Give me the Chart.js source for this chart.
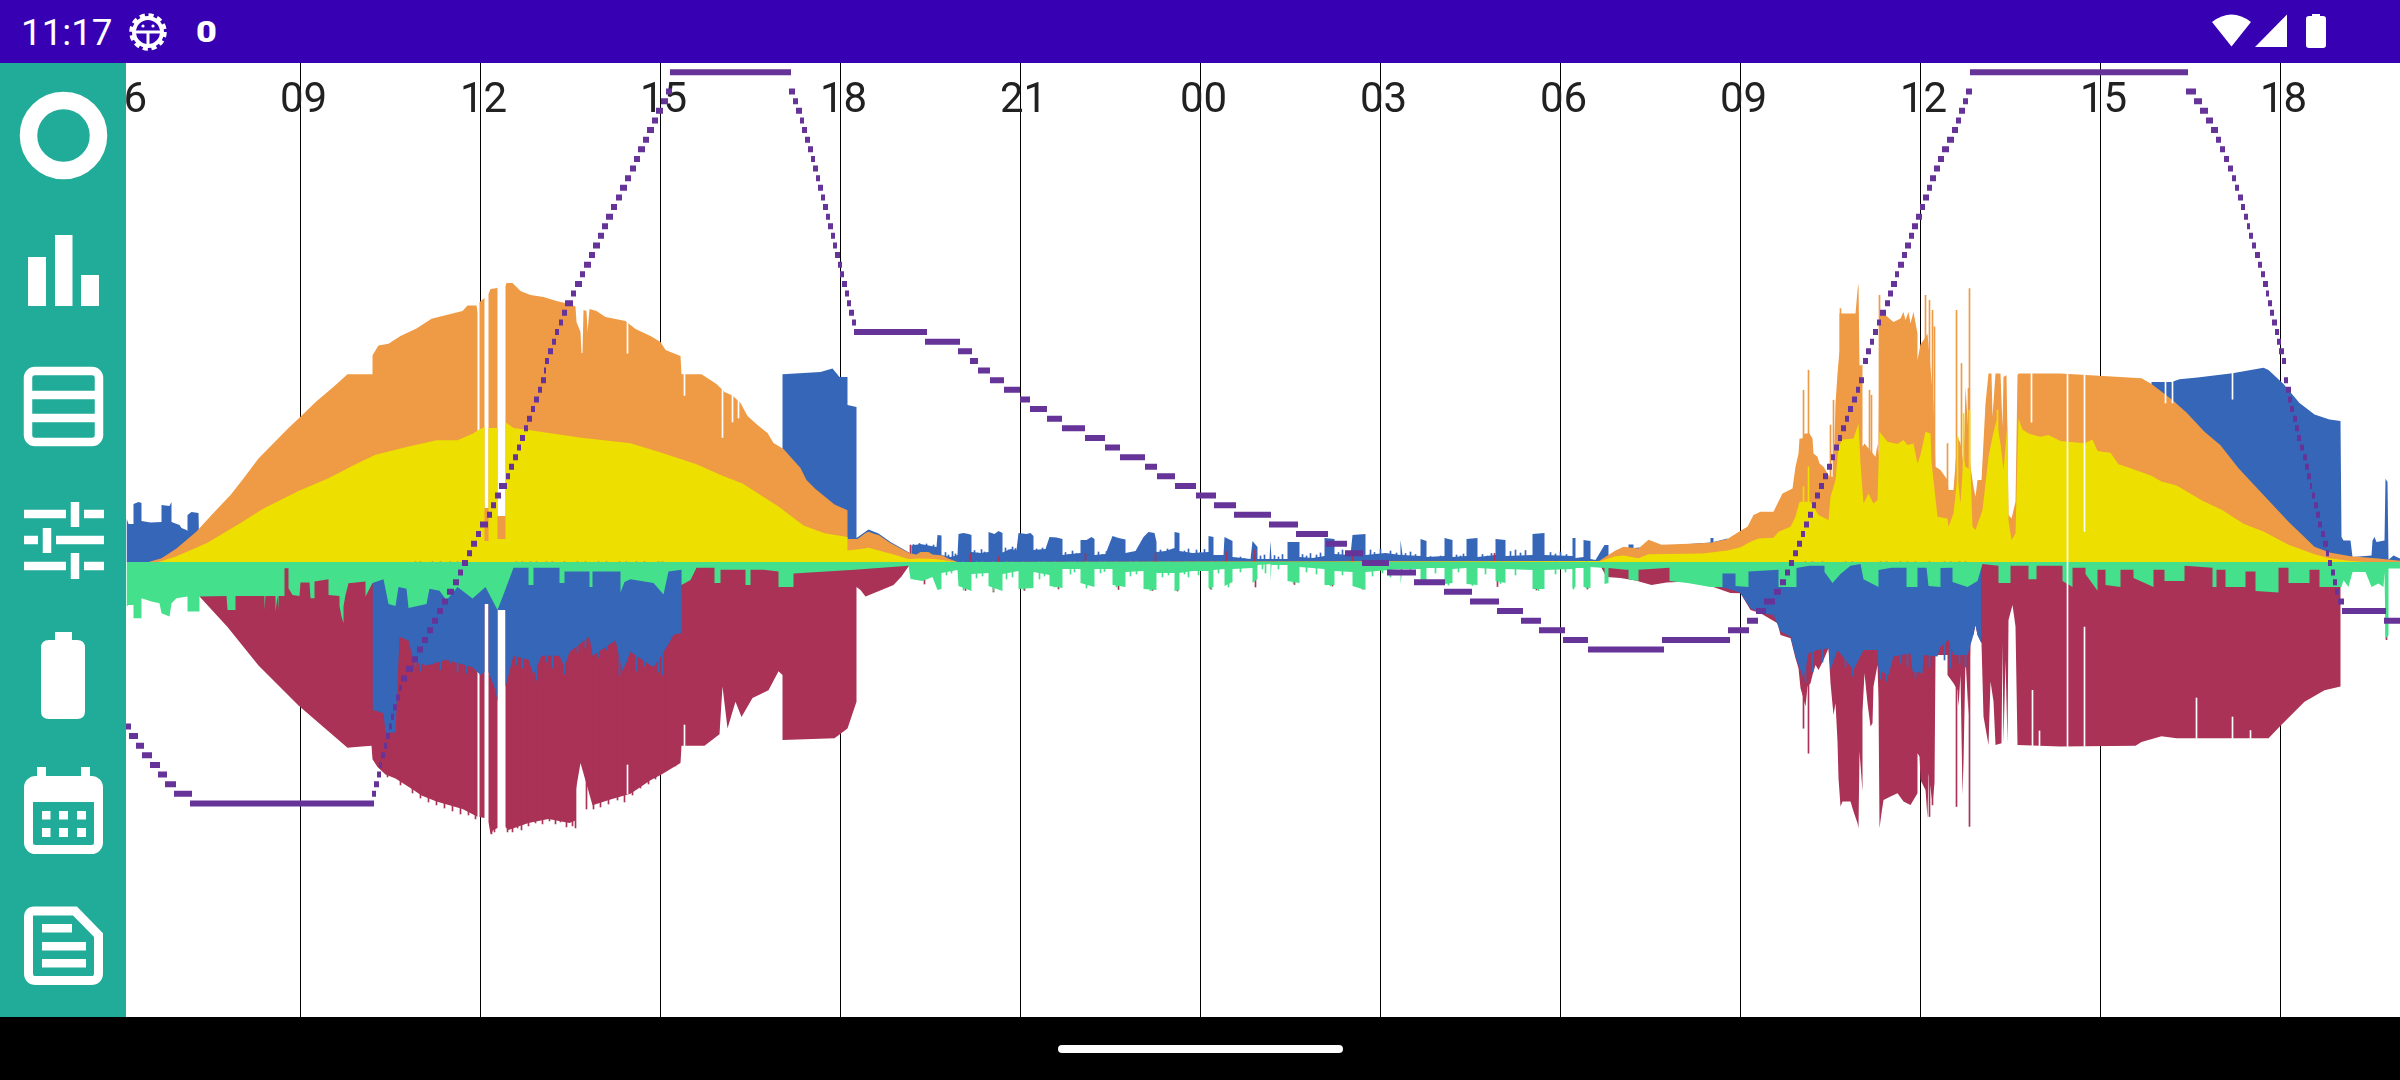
<!DOCTYPE html>
<html>
<head>
<meta charset="utf-8">
<title>Battery history</title>
<script src="https://cdn.jsdelivr.net/npm/chart.js@4/dist/chart.umd.min.js"></script>
<style>
  html, body { margin: 0; padding: 0; background: #fff; overflow: hidden; }
  #wrap { position: relative; width: 2400px; height: 1080px; }
  #myChart { position: absolute; left: 0; top: 0; }
  #chrome { position: absolute; left: 0; top: 0; pointer-events: none; }
</style>
</head>
<body>
<div id="wrap">
  <canvas id="myChart" width="2400" height="1080"></canvas>
  <svg id="chrome" width="2400" height="1080" viewBox="0 0 2400 1080">
    <rect x="0" y="0" width="2400" height="63" fill="#3700B3"/>
    <rect x="0" y="63" width="126" height="954" fill="#21AB99"/>
    <rect x="0" y="1017" width="2400" height="63" fill="#000"/>
    <rect x="1058" y="1045" width="285" height="8" rx="4" fill="#fff"/>

    <text x="21" y="45" font-family="Roboto" font-size="36.75" fill="#fff">11:17</text>
    <g fill="none" stroke="#fff">
      <circle cx="148" cy="32" r="14" stroke-width="4"/>
      <circle cx="148" cy="32" r="16.5" stroke-width="4.5" stroke-dasharray="5 3.64"/>
      <path d="M134 32H162M148 32V46" stroke-width="3"/>
    </g>
    <circle cx="143" cy="26" r="1.6" fill="#fff"/>
    <circle cx="153" cy="26" r="1.6" fill="#fff"/>
    <text transform="translate(206.5 42) scale(1.2 1)" text-anchor="middle" font-family="Roboto" font-weight="900" font-size="30" fill="#fff">0</text>
    <path d="M2212 22Q2231.5 7 2251 22L2231.5 46.5Z" fill="#fff"/>
    <path d="M2255 47L2287 14.5V47Z" fill="#fff"/>
    <path d="M2312 16V14H2320V16H2323Q2326 16 2326 19V45Q2326 48 2323 48H2309Q2306 48 2306 45V19Q2306 16 2309 16Z" fill="#fff"/>

    <circle cx="63.5" cy="135.5" r="35" fill="none" stroke="#fff" stroke-width="17.5"/>
    <g fill="#fff">
      <rect x="28" y="257" width="18" height="49"/>
      <rect x="55" y="235" width="17.5" height="71"/>
      <rect x="81" y="275" width="18" height="31"/>
    </g>
    <g fill="none" stroke="#fff" stroke-width="8.5">
      <rect x="28" y="371" width="71" height="71" rx="7"/>
      <path d="M28 395H99M28 418H99"/>
    </g>
    <g stroke="#fff" stroke-width="8.5" fill="none">
      <path d="M24 514H66M84 514H104M24 540H38M56 540H104M24 566H66M84 566H104"/>
      <path d="M75 502V527M47 528V553M75 553V579"/>
    </g>
    <path d="M55 640V632H72V640H77Q85 640 85 648V711Q85 719 77 719H49Q41 719 41 711V648Q41 640 49 640Z" fill="#fff"/>
    <g fill="none" stroke="#fff" stroke-width="9">
      <rect x="28.5" y="780.5" width="70" height="69" rx="7"/>
    </g>
    <g fill="#fff">
      <rect x="37" y="767" width="9" height="12"/>
      <rect x="81" y="767" width="9" height="12"/>
      <rect x="28" y="785" width="71" height="17"/>
      <rect x="42" y="811" width="8.5" height="8.5"/>
      <rect x="59" y="811" width="9" height="8.5"/>
      <rect x="77" y="811" width="9" height="8.5"/>
      <rect x="42" y="828" width="8.5" height="9"/>
      <rect x="59" y="828" width="9" height="9"/>
      <rect x="77" y="828" width="9" height="9"/>
      <rect x="42" y="924" width="30" height="8.5"/>
      <rect x="42" y="942" width="44" height="8.5"/>
      <rect x="42" y="959" width="44" height="8.5"/>
    </g>
    <path d="M34 911H75L98.5 935V973Q98.5 980.5 91 980.5H36Q28.5 980.5 28.5 973V917Q28.5 911 34 911Z" fill="none" stroke="#fff" stroke-width="9"/>
  </svg>
</div>
<script>
// x is minutes since midnight of the first day, y is watts (charge % for the steps)
const tickMinutes = [360, 540, 720, 900, 1080, 1260, 1440, 1620, 1800, 1980, 2160, 2340, 2520]
const tickLabels = ['06', '09', '12', '15', '18', '21', '00', '03', '06', '09', '12', '15', '18']

// above the zero line, [minute, watts]
const blueUp = [
  [366,437],[368,380],[373,380],[373,580],[378,600],[381,590],[381,410],[390,395],[401,400],[401,570],[409,560],[411,600],[411,400],[419,370],[421,340],[426,320],[427,310],[427,470],[431,500],[438,490],[439,0],
  [1022,0],[1022,1877],[1060,1900],[1072,1934],[1079,1850],[1087,1850],[1087,1570],[1096,1551],[1096,240],[1108,326],[1118,285],[1130,200],[1149,92],[1151,60],[1151,165],[1160,180],[1168,165],[1176,150],[1177,270],[1181,265],[1181,70],[1190,50],[1197,70],[1198,280],[1203,290],[1208,280],[1211,270],[1211,100],[1220,90],[1228,100],[1228,300],[1234,280],[1238,310],[1242,290],[1242,95],[1250,130],[1256,120],[1258,290],[1266,280],[1270,290],[1273,260],[1273,120],[1285,130],[1289,250],[1296,245],[1302,230],[1302,70],[1310,80],[1320,90],[1320,220],[1326,220],[1331,250],[1334,230],[1334,70],[1345,80],[1352,260],[1358,240],[1365,225],[1365,90],[1375,110],[1383,250],[1388,300],[1394,290],[1396,200],[1396,100],[1405,110],[1414,140],[1414,300],[1419,290],[1419,110],[1432,90],[1448,100],[1448,260],[1453,250],[1453,70],[1463,70],[1464,250],[1472,210],[1472,50],[1490,30],[1492,210],[1497,150],[1497,30],[1509,30],[1510,210],[1511,30],[1527,30],[1527,200],[1539,200],[1539,50],[1552,40],[1564,60],[1564,240],[1574,230],[1574,80],[1590,70],[1592,270],[1605,280],[1605,70],[1625,90],[1640,70],[1640,220],[1642,70],[1660,60],[1660,230],[1666,210],[1666,50],[1684,60],[1684,240],[1692,220],[1692,50],[1706,60],[1706,230],[1717,240],[1717,50],[1735,70],[1735,230],[1745,220],[1745,60],[1772,70],[1772,280],[1784,290],[1784,70],[1812,60],[1812,240],[1815,240],[1815,40],[1823,50],[1823,220],[1830,210],[1830,30],[1835,20],[1844,170],[1848,170],[1848,70],[1868,70],[1868,175],[1873,175],[1873,140],[1950,195],[1950,240],[1953,240],[1953,200],[1967,235],[1970,0],
  [2390,0],[2391,1800],[2411,1800],[2419,1827],[2437,1846],[2472,1888],[2503,1942],[2508,1919],[2523,1781],[2539,1590],[2554,1475],[2569,1425],[2580,1409],[2581,250],[2583,216],[2590,216],[2592,50],[2611,66],[2612,216],[2614,250],[2616,200],[2624,216],[2625,832],[2627,800],[2628,23],[2633,66],[2640,33]
]
const blueUpSpikes = [[1153,175],[1156,150],[1159,185],[1163,160],[1166,180],[1170,145],[1173,170],[1185,95],[1188,70],[1192,105],[1195,80],[1214,115],[1217,90],[1221,125],[1224,100],[1245,140],[1248,120],[1252,150],[1255,135],[1276,130],[1279,110],[1282,140],[1286,120],[1305,95],[1308,75],[1312,110],[1316,85],[1338,100],[1342,75],[1346,105],[1349,90],[1368,80],[1372,65],[1376,90],[1379,70],[1400,120],[1403,90],[1407,130],[1411,110],[1424,110],[1428,130],[1436,120],[1440,95],[1444,125],[1456,60],[1459,45],[1476,40],[1480,50],[1484,35],[1500,60],[1504,70],[1514,65],[1518,50],[1522,75],[1542,75],[1546,60],[1550,85],[1556,70],[1560,90],[1578,95],[1582,120],[1586,100],[1610,120],[1614,95],[1620,130],[1630,110],[1636,90],[1645,85],[1650,100],[1655,75],[1670,55],[1675,45],[1680,60],[1696,70],[1700,60],[1703,80],[1722,75],[1727,60],[1731,85],[1750,105],[1755,120],[1760,90],[1765,115],[1790,95],[1795,80],[1800,100],[1806,75]]
const orangeUp = [
  [388,0],[401,38],[416,134],[436,306],[452,479],[470,670],[482,823],[498,1034],[513,1187],[528,1340],[541,1463],[556,1608],[572,1742],[587,1877],[612,1877],[612,2068],[618,2164],[628,2183],[640,2260],[656,2336],[671,2432],[686,2470],[702,2509],[707,2566],[716,2566],[717,2500],[717,300],[719,300],[719,2600],[724,2640],[724,540],[728,540],[728,2680],[730,2730],[737,2740],[737,460],[745,460],[745,2760],[746,2790],[752,2790],[760,2710],[770,2670],[783,2650],[796,2610],[809,2580],[815,2555],[816,2400],[820,2300],[821,2090],[822,2090],[823,2520],[826,2510],[827,2300],[829,2530],[836,2510],[845,2450],[865,2410],[875,2330],[890,2260],[900,2200],[905,2120],[920,2060],[921,1877],[941,1877],[956,1780],[964,1700],[972,1665],[980,1590],[987,1460],[997,1370],[1007,1290],[1013,1190],[1023,1130],[1040,940],[1046,820],[1055,730],[1074,575],[1087,517],[1087,230],[1097,230],[1105,290],[1108,303],[1114,280],[1118,270],[1130,190],[1149,87],[1156,75],[1160,100],[1168,100],[1172,75],[1182,65],[1187,37],[1197,0],
  [1837,0],[1845,53],[1855,115],[1863,153],[1878,134],[1888,222],[1901,172],[1922,180],[1950,192],[1967,230],[1980,313],[1987,353],[1993,470],[2000,503],[2013,503],[2017,586],[2022,686],[2032,736],[2035,952],[2038,1086],[2039,1235],[2042,1235],[2044,1285],[2049,1285],[2052,1235],[2053,1086],[2057,1052],[2059,986],[2063,952],[2067,886],[2069,852],[2073,852],[2075,1585],[2077,1885],[2079,2118],[2079,2484],[2095,2484],[2097,2717],[2098,2784],[2099,1968],[2102,1968],[2102,1152],[2104,1185],[2115,1052],[2117,1185],[2118,1052],[2119,2484],[2123,2484],[2133,2400],[2140,2434],[2143,2500],[2145,2418],[2148,2500],[2150,2384],[2153,2500],[2157,2284],[2157,2018],[2160,2178],[2163,2218],[2167,2284],[2173,1585],[2175,952],[2180,919],[2187,819],[2188,719],[2193,719],[2197,1252],[2200,1185],[2203,986],[2205,1752],[2210,952],[2213,753],[2215,653],[2217,819],[2221,819],[2225,1585],[2228,1885],[2231,1885],[2232,1452],[2235,1885],[2240,1885],[2242,1352],[2243,1852],[2246,1868],[2247,1252],[2248,470],[2251,436],[2255,603],[2257,1868],[2258,1884],[2300,1884],[2381,1838],[2391,1780],[2411,1628],[2426,1494],[2444,1302],[2460,1168],[2478,938],[2503,670],[2528,402],[2554,153],[2569,96],[2590,57],[2618,34],[2640,11]
]
const orangeSpikes = [[747,2776],[2043,1718],[2048,1918],[2070,1369],[2073,1618],[2080,2534],[2109,1718],[2111,1668],[2119,2667],[2165,2667],[2169,2617],[2172,2517],[2174,2351],[2187,1185],[2196,2517],[2201,1985],[2208,1735],[2209,2734]]
const yellowUp = [
  [398,0],[416,57],[447,192],[482,402],[503,536],[538,709],[569,843],[595,977],[615,1072],[646,1149],[676,1218],[697,1218],[712,1283],[718,1321],[724,1350],[724,210],[728,210],[728,1340],[737,1340],[737,230],[745,230],[745,1398],[753,1340],[768,1321],[819,1245],[870,1187],[901,1092],[936,977],[962,862],[982,785],[1018,555],[1043,364],[1064,287],[1087,249],[1087,115],[1100,130],[1108,143],[1120,110],[1135,70],[1148,30],[1160,35],[1175,30],[1190,8],[1196,0],
  [1840,11],[1855,57],[1863,65],[1878,38],[1888,77],[1942,84],[1967,115],[1980,147],[1990,203],[1998,236],[2013,243],[2018,303],[2030,353],[2035,453],[2039,603],[2050,603],[2058,470],[2068,420],[2070,653],[2075,819],[2078,1152],[2082,1225],[2093,1235],[2098,1385],[2100,986],[2103,586],[2108,686],[2113,586],[2117,619],[2119,1302],[2127,1202],[2137,1179],[2143,1219],[2147,1169],[2153,1185],[2157,986],[2160,1069],[2165,1302],[2170,1285],[2171,1002],[2177,453],[2187,436],[2188,353],[2193,486],[2197,852],[2200,586],[2203,1052],[2205,952],[2210,919],[2212,353],[2215,320],[2222,519],[2225,786],[2228,1052],[2232,1252],[2236,1418],[2240,1185],[2243,919],[2247,1385],[2248,420],[2251,220],[2255,286],[2258,1435],[2262,1325],[2268,1285],[2273,1269],[2280,1252],[2288,1269],[2300,1210],[2324,1187],[2332,1226],[2337,1111],[2350,1092],[2358,977],[2370,938],[2391,862],[2401,804],[2416,766],[2442,613],[2462,517],[2483,383],[2503,306],[2528,172],[2554,77],[2569,38],[2590,11],[2605,0]
]
const yellowSpikes = [[2043,753],[2048,952],[2197,1252],[2203,1485],[2209,1518],[2237,1518]]

// below the zero line, [minute, watts]
const redDown = [
  [439,346],[467,651],[498,1034],[538,1436],[587,1858],[595,1850],[611,1838],[612,1972],[617,2049],[625,2125],[635,2164],[653,2279],[661,2336],[676,2394],[702,2470],[717,2547],[717,940],[719,940],[719,2550],[724,2560],[724,420],[728,420],[728,2600],[730,2720],[733,2680],[737,2660],[737,480],[745,480],[745,2650],[748,2680],[768,2610],[788,2570],[809,2610],[815,2585],[815,2300],[820,2011],[832,2432],[850,2375],[870,2317],[890,2183],[901,2125],[920,2011],[921,1838],[944,1838],[959,1723],[962,1245],[967,1666],[975,1398],[981,1551],[992,1360],[1008,1283],[1018,1092],[1022,1130],[1022,1780],[1074,1762],[1087,1666],[1096,1398],[1096,250],[1100,280],[1105,346],[1121,280],[1133,230],[1141,146],[1149,30],[1150,0],
  [1840,40],[1846,150],[1860,160],[1875,185],[1891,230],[1906,205],[1927,195],[1950,240],[1970,310],[1980,313],[1990,480],[2000,513],[2017,613],[2020,729],[2030,763],[2035,963],[2038,1063],[2040,1263],[2042,1329],[2045,1446],[2047,1246],[2050,1213],[2052,1130],[2055,1030],[2058,1080],[2063,980],[2068,863],[2070,1213],[2073,1530],[2075,1413],[2077,1796],[2078,2162],[2080,2445],[2082,2395],[2090,2395],[2093,2495],[2097,2612],[2098,2662],[2099,1896],[2102,2295],[2102,1496],[2104,1113],[2107,1413],[2110,1646],[2112,1613],[2113,1246],[2117,1030],[2118,1362],[2119,2662],[2121,2512],[2123,2379],[2130,2345],[2137,2312],[2143,2395],[2150,2429],[2157,2312],[2157,1912],[2159,1946],[2160,2179],[2165,2279],[2167,2562],[2168,2112],[2172,2412],[2174,2212],[2175,930],[2187,930],[2187,1130],[2193,1213],[2197,1279],[2198,1446],[2200,1130],[2202,2329],[2203,2012],[2205,963],[2208,1530],[2210,763],[2213,730],[2215,630],[2217,730],[2221,813],[2223,1546],[2228,1829],[2230,1196],[2233,1396],[2235,1829],[2241,1813],[2242,813],[2243,1813],[2245,980],[2247,1813],[2248,580],[2252,430],[2255,646],[2257,1829],[2300,1846],[2375,1838],[2381,1800],[2401,1743],[2416,1762],[2508,1762],[2521,1628],[2544,1398],[2564,1283],[2580,1245],[2580,60],[2640,60]
]
const redSpikes = [[627,2150],[640,2230],[652,2310],[660,2360],[668,2400],[676,2430],[684,2460],[692,2490],[700,2520],[708,2530],[715,2570],[731,2720],[734,2700],[747,2700],[752,2700],[757,2660],[761,2680],[768,2640],[775,2610],[782,2620],[789,2590],[795,2620],[800,2600],[806,2650],[812,2640],[815,2660],[826,2470],[833,2470],[840,2450],[848,2420],[857,2380],[864,2400],[872,2330],[880,2260],[888,2220],[895,2170],[905,2090],[915,2040],[1164,220],[1205,285],[1233,300],[1264,285],[1298,270],[1358,275],[1392,285],[1417,290],[1450,270],[1495,250],[1534,225],[1572,240],[1602,270],[1737,245],[1776,280],[1827,270],[2043,1662],[2048,1912],[2169,2545],[2172,2429],[2196,2445],[2209,2645],[2626,776]]
const redUpSpikes = [[1150,170],[1210,86],[1238,53],[1325,86],[1395,86],[1466,103],[1494,120],[1592,70],[1734,86]]
const blueDown = [
  [612,0],[612,1478],[623,1513],[625,1704],[635,1704],[639,747],[648,785],[653,996],[666,1034],[686,977],[712,1053],[720,1130],[724,1100],[724,420],[728,420],[728,1100],[735,1283],[737,1398],[737,480],[745,480],[745,1250],[753,938],[768,977],[773,1130],[781,938],[799,938],[804,1053],[809,900],[829,747],[832,938],[855,785],[862,1092],[870,900],[893,1053],[908,823],[913,728],[921,709],[921,0],
  [1911,0],[1912,190],[1930,200],[1947,240],[1965,260],[1978,300],[1980,313],[1990,463],[2000,513],[2013,530],[2020,696],[2030,746],[2035,946],[2043,1162],[2048,912],[2057,879],[2068,862],[2070,1079],[2077,879],[2093,1079],[2103,879],[2117,879],[2118,1079],[2128,1129],[2133,946],[2150,912],[2152,1096],[2162,1112],[2163,929],[2177,946],[2180,846],[2188,779],[2193,929],[2207,929],[2212,763],[2215,629],[2217,729],[2221,813],[2221,0]
]
const blueSpikes = [[655,1040],[660,1090],[672,1020],[680,1080],[690,1010],[697,1100],[706,1110],[756,1030],[762,1060],[770,1030],[776,1180],[786,1000],[792,1060],[804,1120],[817,900],[825,860],[838,950],[846,880],[859,1130],[866,1000],[876,1090],[884,1040],[898,1100],[902,1130],[2045,1200],[2052,1100],[2062,1000],[2085,1050],[2092,1140],[2120,1170],[2126,1190],[2140,1010],[2147,1040],[2155,1150],[2169,1050],[2184,980],[2190,1060],[2199,1010],[2205,1050]]
const greenDown = [
  [366,446],[368,430],[373,430],[373,563],[381,563],[381,363],[391,396],[399,413],[401,513],[409,546],[411,413],[416,363],[427,346],[427,496],[439,496],[439,346],[466,340],[467,480],[475,480],[475,340],[504,340],[504,480],[505,340],[515,340],[515,496],[517,340],[518,480],[518,340],[524,340],[524,63],[528,63],[528,263],[532,330],[539,340],[540,206],[549,206],[550,363],[554,363],[554,196],[568,173],[568,330],[579,340],[579,440],[581,546],[583,613],[583,446],[585,330],[588,213],[605,196],[605,346],[612,210],[623,172],[628,421],[635,440],[638,249],[646,268],[648,460],[666,421],[669,268],[679,287],[686,383],[697,249],[712,364],[725,249],[737,479],[743,326],[753,58],[768,58],[768,230],[773,230],[773,58],[799,58],[799,211],[804,211],[804,96],[829,96],[829,249],[832,249],[832,96],[860,96],[860,306],[864,200],[870,172],[893,211],[903,326],[908,96],[921,77],[921,230],[930,180],[936,58],[954,58],[954,211],[960,211],[960,77],[985,77],[985,230],[990,230],[990,77],[1003,77],[1018,96],[1018,249],[1033,249],[1033,115],[1094,77],[1148,38],[1150,170],
  [1162,190],[1172,150],[1177,280],[1181,270],[1181,110],[1197,80],[1198,240],[1211,290],[1211,120],[1228,110],[1228,240],[1242,290],[1242,120],[1258,90],[1258,270],[1273,260],[1273,100],[1289,130],[1289,240],[1302,260],[1302,70],[1320,70],[1320,210],[1334,250],[1334,70],[1352,70],[1352,230],[1365,250],[1365,100],[1383,90],[1383,270],[1396,280],[1396,110],[1414,110],[1414,290],[1419,280],[1419,110],[1432,90],[1448,90],[1448,260],[1453,250],[1453,80],[1464,70],[1464,240],[1472,200],[1472,70],[1492,60],[1492,210],[1497,170],[1497,30],[1510,20],[1510,200],[1511,30],[1527,30],[1527,190],[1539,210],[1539,50],[1564,70],[1564,230],[1574,230],[1574,90],[1592,100],[1592,240],[1605,280],[1605,100],[1640,70],[1640,220],[1642,70],[1660,70],[1660,200],[1666,180],[1666,60],[1684,60],[1684,220],[1692,210],[1692,70],[1706,60],[1706,220],[1717,230],[1717,60],[1735,70],[1735,190],[1745,210],[1745,70],[1772,80],[1772,270],[1784,270],[1784,80],[1812,70],[1812,260],[1815,250],[1815,60],[1823,60],[1823,250],[1830,260],[1830,50],[1844,60],[1844,220],[1848,210],[1848,60],
  [1865,77],[1868,77],[1868,172],[1878,191],[1878,77],[1909,58],[1909,191],[1927,211],[1950,249],[1962,249],[1962,115],[1975,115],[1975,240],[1988,249],[1988,96],[2018,77],[2018,249],[2036,249],[2036,60],[2049,38],[2064,38],[2064,100],[2072,211],[2080,120],[2090,38],[2100,19],[2103,172],[2118,249],[2118,80],[2131,57],[2146,57],[2146,249],[2157,249],[2157,57],[2166,57],[2168,240],[2180,249],[2180,60],[2192,57],[2192,200],[2207,249],[2217,191],[2222,19],[2238,38],[2238,211],[2250,211],[2250,38],[2268,38],[2268,172],[2276,172],[2276,38],[2289,38],[2302,38],[2302,191],[2312,249],[2312,57],[2325,57],[2325,120],[2337,287],[2337,77],[2345,77],[2345,230],[2360,249],[2360,77],[2373,77],[2373,160],[2393,249],[2393,77],[2404,77],[2404,191],[2424,191],[2424,38],[2452,57],[2452,249],[2456,249],[2456,77],[2465,77],[2465,249],[2485,249],[2485,96],[2495,96],[2495,290],[2518,306],[2518,57],[2528,57],[2528,211],[2549,211],[2549,77],[2559,77],[2559,249],[2581,250],[2583,183],[2588,250],[2592,100],[2605,100],[2611,250],[2618,216],[2623,250],[2624,100],[2625,766],[2628,733],[2628,66],[2640,66]
]
const greenSpikes = [[1186,130],[1191,110],[1203,280],[1216,160],[1222,140],[1233,290],[1246,170],[1252,150],[1263,280],[1279,170],[1284,140],[1294,250],[1310,120],[1314,100],[1326,260],[1340,110],[1344,95],[1356,250],[1370,140],[1376,120],[1390,285],[1402,150],[1408,130],[1424,120],[1428,150],[1438,130],[1451,275],[1458,110],[1468,250],[1480,100],[1502,70],[1505,110],[1518,70],[1533,215],[1546,100],[1556,120],[1570,240],[1582,130],[1597,250],[1612,140],[1622,110],[1630,150],[1650,120],[1663,210],[1675,110],[1688,230],[1698,100],[1712,235],[1725,120],[1740,215],[1755,130],[1778,285],[1795,120],[1805,100],[1813,270],[1826,260]]

// thin holes in the record, [minute, from watts, to watts]
const recordGaps = [[867,2087,2420],[867,-2320,-2030],[924,1666,1880],[924,-1838,-1630],[962,1245,1720],[972,1400,1680],[978,1440,1620],[2271,1398,1950],[2272,-1850,-1283],[2279,-1850,-1690],[2307,-1900,1950],[2324,306,1950],[2324,-1900,-651],[2405,1590,1850],[2412,1590,1850],[2436,-1800,-1360],[2472,1628,1950],[2472,-1800,-1550],[2490,-1800,-1685]]

// charge in %, held over [level, from minute, to minute]
const chargeSteps = [
  [32,366,371],[31,369,378],[30,376,384],[29,382,392],[28,390,400],[27,398,407],[26,405,416],[25,414,432],[24,430,614],
  [25,612,616],[26,614,619],[27,617,621],[28,619,622],[29,621,625],[30,624,627],[31,626,630],[32,629,632],[33,631,634],[34,633,637],[35,636,640],[36,639,642],[37,641,647],[38,646,653],[39,652,658],[40,657,663],[41,662,668],[42,667,673],[43,672,678],[44,677,683],[45,682,688],[46,687,694],[47,693,699],[48,698,703],[49,702,708],[50,707,712],[51,711,717],[52,716,721],[53,720,728],[54,727,732],[55,731,736],[56,735,741],[57,739,747],[58,746,750],[59,749,754],[60,753,758],[61,757,761],[62,760,765],[63,764,768],[64,767,772],[65,771,775],[66,774,779],[67,778,782],[68,781,786],[69,784,786],[70,785,789],[71,788,793],[72,792,796],[73,795,799],[74,799,803],[75,802,807],[76,805,813],[77,811,816],[78,815,822],[79,820,825],[80,824,831],[81,829,835],[82,833,840],[83,838,844],[84,842,848],[85,846,853],[86,851,857],[87,856,862],[88,860,867],[89,865,871],[90,870,876],[91,874,880],[92,878,885],[93,883,889],[94,887,894],[95,892,898],[96,896,903],[97,901,908],[98,906,912],[100,910,1031],
  [98,1029,1035],[97,1033,1038],[96,1036,1042],[95,1040,1044],[94,1042,1047],[93,1045,1050],[92,1048,1053],[91,1051,1055],[90,1053,1058],[89,1056,1060],[88,1058,1063],[87,1061,1065],[86,1063,1068],[85,1066,1070],[84,1068,1073],[83,1071,1075],[82,1073,1077],[81,1075,1080],[80,1078,1082],[79,1080,1084],[78,1082,1087],[77,1085,1089],[76,1087,1091],[75,1089,1094],[74,1092,1096],[73,1094,1167],[72,1165,1200],[71,1198,1212],[70,1210,1218],[69,1218,1230],[68,1230,1244],[67,1244,1260],[66,1260,1270],[65,1270,1287],[64,1287,1302],[63,1302,1325],[62,1325,1345],[61,1345,1360],[60,1360,1385],[59,1385,1397],[58,1397,1415],[57,1415,1436],[56,1436,1456],[55,1454,1476],[54,1474,1511],[53,1509,1538],[52,1536,1568],[51,1566,1587],[50,1585,1603],[49,1602,1629],[48,1627,1656],[47,1654,1685],[46,1684,1712],[45,1710,1739],[44,1737,1763],[43,1761,1781],[42,1779,1805],[41,1803,1828],[40,1828,1904],
  [41,1902,1970],[42,1968,1989],[43,1987,1998],[44,1996,2006],[45,2004,2015],[46,2014,2021],[47,2020,2026],[48,2025,2030],[49,2029,2034],[50,2033,2038],[51,2037,2042],[52,2041,2045],[53,2044,2049],[54,2048,2053],[55,2052,2056],[56,2055,2060],[57,2059,2064],[58,2063,2068],[59,2067,2072],[60,2071,2075],[61,2074,2079],[62,2078,2082],[63,2081,2086],[64,2085,2089],[65,2088,2093],[66,2092,2097],[67,2096,2100],[68,2099,2104],[70,2103,2108],[71,2106,2111],[72,2110,2114],[73,2113,2118],[74,2117,2121],[75,2120,2126],[76,2125,2130],[77,2128,2133],[78,2131,2137],[79,2135,2139],[80,2138,2144],[81,2142,2147],[82,2145,2151],[83,2149,2154],[84,2152,2158],[85,2156,2162],[86,2160,2165],[87,2163,2169],[88,2167,2172],[89,2170,2176],[90,2174,2180],[91,2178,2184],[92,2182,2189],[93,2187,2194],[94,2192,2198],[95,2196,2201],[96,2199,2205],[97,2203,2208],[98,2206,2212],[100,2210,2428],
  [98,2426,2436],[97,2434,2442],[96,2440,2448],[95,2446,2453],[94,2451,2458],[93,2456,2461],[92,2460,2465],[91,2464,2469],[90,2468,2473],[89,2472,2476],[88,2475,2479],[87,2478,2483],[86,2481,2485],[85,2484,2488],[84,2487,2490],[83,2489,2493],[82,2492,2496],[81,2495,2500],[80,2498,2502],[79,2501,2505],[78,2503,2508],[77,2506,2509],[76,2508,2512],[75,2510,2514],[74,2512,2517],[73,2515,2519],[72,2517,2521],[71,2519,2524],[70,2522,2526],[68,2524,2528],[67,2526,2531],[66,2528,2532],[65,2530,2534],[64,2533,2537],[63,2535,2539],[62,2537,2541],[61,2540,2544],[60,2543,2547],[59,2545,2549],[58,2547,2551],[57,2550,2552],[56,2552,2555],[55,2554,2558],[54,2556,2560],[53,2558,2562],[52,2561,2565],[51,2563,2568],[50,2566,2569],[49,2568,2572],[48,2571,2575],[47,2573,2577],[46,2575,2579],[45,2578,2584],[44,2582,2626],[43,2624,2640]
]

const ORANGE = '#EF9A45'
const YELLOW = '#EDDF00'
const BLUE = '#3566B8'
const RED = '#A93256'
const GREEN = '#45E08B'
const PURPLE = '#663399'

const area = (pairs, sign, color, order) => ({
  type: 'line',
  data: pairs.map(([t, w]) => ({ x: t, y: sign * w })),
  backgroundColor: color,
  fill: 'origin',
  borderWidth: 0,
  pointRadius: 0,
  tension: 0,
  order
})

const spikes = (pairs, sign, color, order) => ({
  type: 'bar',
  data: pairs.map(([t, w]) => ({ x: t, y: sign * w })),
  backgroundColor: color,
  grouped: false,
  barPercentage: 1,
  categoryPercentage: 1,
  maxBarThickness: 1,
  order
})

const myChart = new Chart(document.getElementById('myChart'), {
  type: 'line',
  data: {
    datasets: [
      area(blueUp, 1, BLUE, 20),
      spikes(blueUpSpikes, 1, BLUE, 20),
      area(orangeUp, 1, ORANGE, 18),
      spikes(orangeSpikes, 1, ORANGE, 17),
      area(yellowUp, 1, YELLOW, 16),
      spikes(yellowSpikes, 1, YELLOW, 15),
      spikes(redUpSpikes, 1, RED, 19),
      area(redDown, -1, RED, 20),
      spikes(redSpikes, -1, RED, 19),
      area(blueDown, -1, BLUE, 14),
      spikes(blueSpikes, -1, BLUE, 14),
      area(greenDown, -1, GREEN, 13),
      spikes(greenSpikes, -1, GREEN, 13),
      {
        type: 'bar',
        data: recordGaps.map(([t, a, b]) => ({ x: t, y: [a, b] })),
        backgroundColor: '#fff',
        grouped: false,
        barPercentage: 1,
        categoryPercentage: 1,
        maxBarThickness: 1,
        order: 3
      },
      {
        type: 'line',
        yAxisID: 'charge',
        // half a minute back so each step starts on a whole pixel
        data: chargeSteps.flatMap(([level, from, to]) => [
          { x: from - 0.5, y: level },
          { x: to - 0.5, y: level },
          { x: to - 0.5, y: null }
        ]),
        borderColor: PURPLE,
        borderWidth: 6,
        borderCapStyle: 'butt',
        pointRadius: 0,
        tension: 0,
        fill: false,
        spanGaps: false,
        order: 1
      }
    ]
  },
  options: {
    responsive: false,
    devicePixelRatio: 1,
    animation: false,
    layout: { padding: { left: 0, right: 0, top: 63, bottom: 63 } },
    plugins: { legend: { display: false }, tooltip: { enabled: false } },
    scales: {
      x: {
        type: 'linear',
        position: 'top',
        min: 239.5,
        max: 2639.5,
        offset: false,
        afterFit: scale => { scale.height = 0 },
        afterBuildTicks: scale => { scale.ticks = tickMinutes.map(value => ({ value })) },
        border: { display: false },
        grid: { color: '#000', lineWidth: 1, drawTicks: false, offset: false },
        ticks: {
          mirror: true,
          padding: 13,
          labelOffset: 3,
          autoSkip: false,
          maxRotation: 0,
          color: '#212121',
          font: { family: 'Roboto', size: 42 },
          callback: (value, i) => tickLabels[i]
        }
      },
      y: { display: false, min: -4550, max: 4990 },
      charge: { display: false, min: 1.8, max: 100.97 }
    }
  }
})
</script>
</body>
</html>
